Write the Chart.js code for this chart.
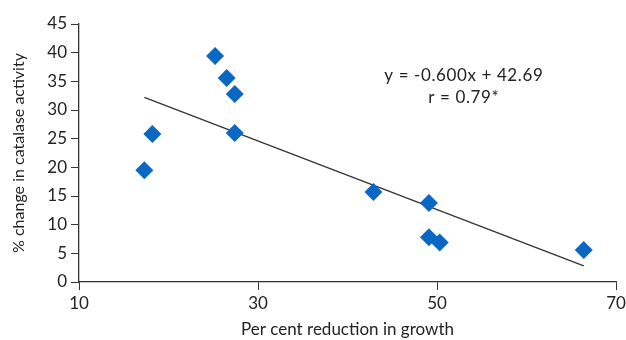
<!DOCTYPE html>
<html>
<head>
<meta charset="utf-8">
<script src="https://cdn.jsdelivr.net/npm/chart.js@4"></script>
<style>
html,body{margin:0;padding:0;background:#fff;}
#wrap{width:626px;height:340px;position:relative;}
</style>
</head>
<body>
<div id="wrap"><canvas id="c" width="626" height="340"></canvas></div>
<script>
const growthReduction = [17.3, 18.2, 25.2, 26.5, 27.4, 27.4, 42.9, 49.1, 49.1, 50.3, 66.4];
const catalaseChange  = [19.5, 25.8, 39.4, 35.6, 32.8, 26.0, 15.7, 13.8, 7.8, 6.9, 5.6];
const trendX = [17.3, 66.4];
const trendY = [32.2, 2.8];
const xTicks = [10, 30, 50, 70];
const yTicks = [0, 5, 10, 15, 20, 25, 30, 35, 40, 45];
const equationLines = ['y = -0.600x + 42.69', 'r = 0.79*'];

const FONT = 'Lato, "Open Sans", sans-serif';
const TXT = '#222';

const annot = {
  id: 'annot',
  afterDatasetsDraw(chart) {
    const ctx = chart.ctx;
    const xs = chart.scales.x, ys = chart.scales.y;
    const cx = xs.getPixelForValue(53.0);
    const cy = ys.getPixelForValue(36.0);
    ctx.save();
    ctx.fillStyle = TXT;
    ctx.font = '17px ' + FONT;
    ctx.textAlign = 'center';
    ctx.textBaseline = 'middle';
    if ('letterSpacing' in ctx) ctx.letterSpacing = '0.6px';
    ctx.fillText(equationLines[0], cx, cy);
    ctx.fillText(equationLines[1], cx, cy + 22);
    ctx.restore();
  }
};

new Chart(document.getElementById('c'), {
  type: 'scatter',
  data: {
    datasets: [
      {
        label: 'trend',
        type: 'line',
        data: trendX.map((x, i) => ({x, y: trendY[i]})),
        borderColor: '#333',
        borderWidth: 1.3,
        pointRadius: 0,
        fill: false,
        order: 2
      },
      {
        label: 'data',
        data: growthReduction.map((x, i) => ({x, y: catalaseChange[i]})),
        pointStyle: 'rectRot',
        pointRadius: 9,
        pointHoverRadius: 9,
        backgroundColor: '#0a68c4',
        borderColor: '#0a68c4',
        borderWidth: 0,
        order: 1
      }
    ]
  },
  options: {
    responsive: false,
    animation: false,
    layout: {padding: {left: 9, right: 10, top: 24, bottom: 0}},
    plugins: {legend: {display: false}, tooltip: {enabled: false}},
    scales: {
      x: {
        type: 'linear',
        min: 10, max: 70,
        afterBuildTicks(s) { s.ticks = xTicks.map(v => ({value: v})); },
        afterFit(s) { s.height = 58; s.paddingLeft = 0; s.paddingRight = 0; },
        grid: {drawOnChartArea: false, drawTicks: true, tickLength: 8, color: '#333', tickColor: '#333'},
        border: {color: '#333', width: 1.3},
        ticks: {color: TXT, font: {family: FONT, size: 17}, padding: 3, maxRotation: 0},
        title: {display: true, text: 'Per cent reduction in growth', color: TXT, font: {family: FONT, size: 17}, padding: {top: 2, bottom: 0}}
      },
      y: {
        type: 'linear',
        min: 0, max: 45,
        afterBuildTicks(s) { s.ticks = yTicks.map(v => ({value: v})); },
        afterFit(s) { s.width = 70; s.paddingTop = 0; s.paddingBottom = 0; },
        grid: {drawOnChartArea: false, drawTicks: true, tickLength: 8, color: '#333', tickColor: '#333'},
        border: {color: '#333', width: 1.3},
        ticks: {color: TXT, font: {family: FONT, size: 17}, padding: 4},
        title: {display: true, text: '% change in catalase activity', color: TXT, font: {family: FONT, size: 16}, padding: {top: 0, bottom: 2}}
      }
    }
  },
  plugins: [annot]
});
</script>
</body>
</html>
